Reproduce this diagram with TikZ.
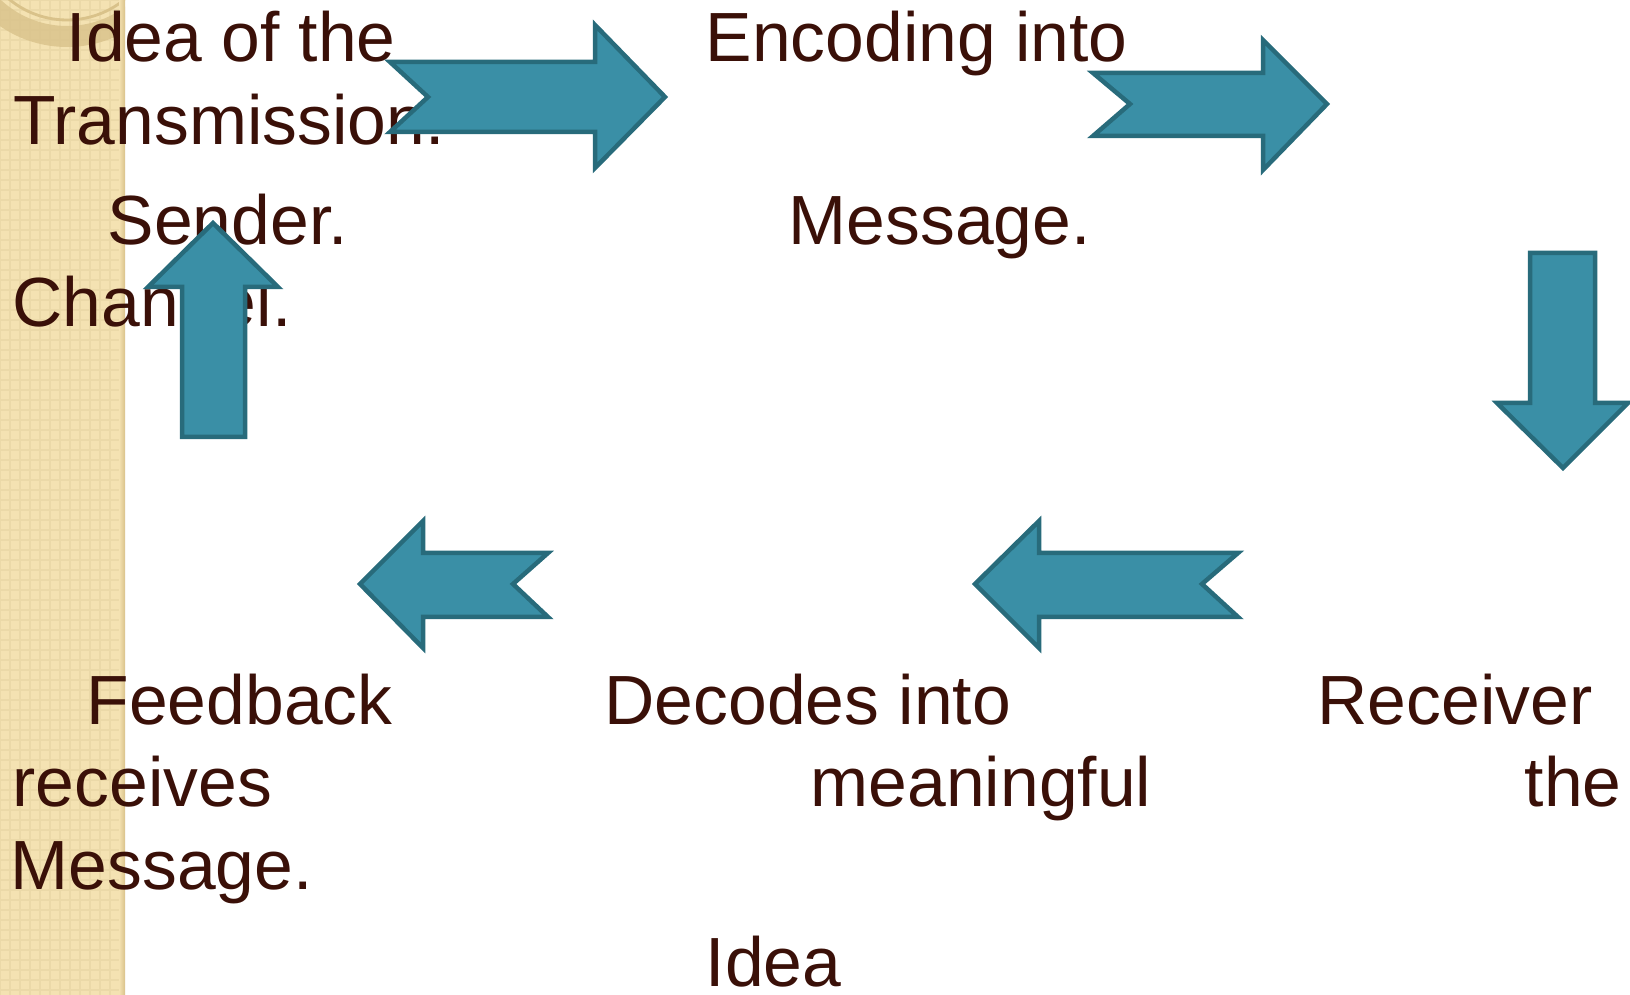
\documentclass[tikz,border=0pt]{standalone}
\usepackage{fontspec}
\setmainfont{Liberation Sans}
\definecolor{txtbrown}{HTML}{3A1008}
\definecolor{arrowfill}{HTML}{3A8FA6}
\definecolor{arrowline}{HTML}{286B7B}
\definecolor{stripbg}{HTML}{F4E2B2}
\definecolor{stripgrid}{HTML}{EBD9A8}
\definecolor{ringband}{HTML}{D9C28A}
\tikzset{
  lbl/.style={anchor=base west, inner sep=0pt, text=txtbrown, font=\fontsize{19.8}{24}\selectfont},
  blockarrow/.style={fill=arrowfill, draw=arrowline, line width=0.045cm, line join=miter}
}
\begin{document}
\begin{tikzpicture}[x=0.01cm, y=-0.01cm]
            \useasboundingbox (0,0) rectangle (1630,995);
            % side strip
            \fill[stripbg] (0,0) rectangle (125,995);
                \begin{scope}
            \clip (0,0) rectangle (125,995);
            \foreach \i in {0,10,...,125} \draw[stripgrid, line width=0.5pt] (\i,0) -- (\i,995);
            \foreach \j in {0,10,...,995} \draw[stripgrid, line width=0.5pt] (0,\j) -- (125,\j);
            \fill[ringband, opacity=0.8, even odd rule] (67,-71) circle[radius=118] (67,-71) circle[radius=97];
            \draw[ringband, line width=0.8pt] (67,-71) circle[radius=91];
            \shade[left color=stripbg, right color=ringband] (119,0) rectangle (125,995);
                \end{scope}
            % texts
            \node[lbl] (ideaA) at (66,62) {Idea of the};
            \node[lbl] (ideaB) at (13,145) {Transmission.};
            \node[lbl] (sender) at (107,245) {Sender.};
            \node[lbl] (channel) at (12,327) {Channel.};
            \node[lbl] (encA) at (705,62) {Encoding into};
            \node[lbl] (encB) at (788,245) {Message.};
            \node[lbl] (recvA) at (1317,725) {Receiver};
            \node[lbl] (recvB) at (1524,807) {the};
            \node[lbl] (decA) at (604,725) {Decodes into};
            \node[lbl] (decB) at (810,807) {meaningful};
            \node[lbl] (decC) at (705,987) {Idea};
            \node[lbl] (feedA) at (86,725) {Feedback};
            \node[lbl] (feedB) at (12,807) {receives};
            \node[lbl] (feedC) at (10,890) {Message.};
            % block arrows
            \draw[blockarrow] (390,62) -- (595,62) -- (595,25) -- (665,97) -- (595,168) -- (595,132) -- (390,132) -- (428,97) -- cycle;
            \draw[blockarrow] (1093,73) -- (1263,73) -- (1263,40) -- (1327,104) -- (1263,170) -- (1263,136) -- (1093,136) -- (1130,104) -- cycle;
            \draw[blockarrow] (1530,253) -- (1595,253) -- (1595,403) -- (1628,403) -- (1563,468) -- (1497,403) -- (1530,403) -- cycle;
            \draw[blockarrow] (975,584) -- (1039,521) -- (1039,553) -- (1238,553) -- (1202,584) -- (1238,617) -- (1039,617) -- (1039,648) -- cycle;
            \draw[blockarrow] (360,584) -- (423,521) -- (423,553) -- (548,553) -- (513,584) -- (548,617) -- (423,617) -- (423,648) -- cycle;
            \draw[blockarrow] (213,223) -- (278,287) -- (245,287) -- (245,437) -- (182,437) -- (182,287) -- (148,287) -- cycle;
        \end{tikzpicture}
\end{document}
